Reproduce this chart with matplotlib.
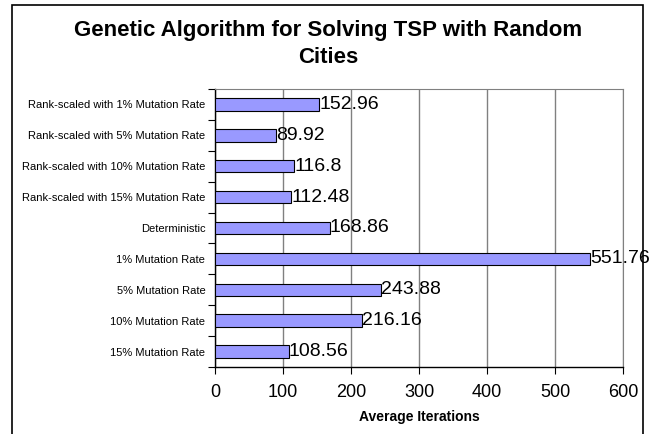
import matplotlib.pyplot as plt
from matplotlib.patches import Rectangle

plt.rcParams['font.family'] = ['Liberation Sans', 'DejaVu Sans']

categories = ['Rank-scaled with 1% Mutation Rate',
              'Rank-scaled with 5% Mutation Rate',
              'Rank-scaled with 10% Mutation Rate',
              'Rank-scaled with 15% Mutation Rate',
              'Deterministic',
              '1% Mutation Rate',
              '5% Mutation Rate',
              '10% Mutation Rate',
              '15% Mutation Rate']
iterations = [152.96, 89.92, 116.8, 112.48, 168.86, 551.76, 243.88, 216.16, 108.56]
value_labels = ['152.96', '89.92', '116.8', '112.48', '168.86', '551.76', '243.88', '216.16', '108.56']
x_ticks = [0, 100, 200, 300, 400, 500, 600]

W, H = 650, 434
fig = plt.figure(figsize=(W / 100, H / 100), dpi=100)

# outer chart frame, runs off the bottom edge
fig.patches.append(Rectangle((12 / W, -0.05), (643 - 12) / W, 1.05 - 5 / H,
                             transform=fig.transFigure, fill=False,
                             edgecolor='black', linewidth=1.2))

left, right, top, bottom = 215, 623, 89, 367
ax = fig.add_axes([left / W, 1 - bottom / H, (right - left) / W, (bottom - top) / H])

pos = list(range(len(categories)))[::-1]
ax.barh(pos, iterations, height=0.4, color='#9999ff', edgecolor='black',
        linewidth=0.8, zorder=3)
for p, v, lab in zip(pos, iterations, value_labels):
    ax.text(v, p, lab, va='center', ha='left', fontsize=14, zorder=4)

ax.set_xlim(0, 600)
ax.set_ylim(-0.5, len(categories) - 0.5)
ax.set_xticks(x_ticks)
ax.set_xticklabels([str(t) for t in x_ticks], fontsize=13)
ax.tick_params(axis='x', direction='out', length=5, width=0.8, pad=7)
ax.grid(axis='x', color='#808080', linewidth=1, zorder=0)

ax.set_yticks(pos)
ax.set_yticklabels(categories, fontsize=8)
ax.set_yticks([p + 0.5 for p in range(-1, len(categories))], minor=True)
ax.tick_params(axis='y', which='major', length=0, pad=7)
ax.tick_params(axis='y', which='minor', direction='out', length=5, width=0.8)

ax.spines['top'].set_color('#808080')
ax.spines['right'].set_color('#808080')
ax.spines['left'].set_linewidth(1)
ax.spines['bottom'].set_linewidth(1)

ax.set_xlabel('Average Iterations', fontsize=10, fontweight='bold', labelpad=7)

fig.text(328 / W, 1 - 44 / H, 'Genetic Algorithm for Solving TSP with Random\nCities',
         ha='center', va='center', fontsize=16, fontweight='bold', linespacing=1.4)

fig.savefig('out.png', dpi=100)
